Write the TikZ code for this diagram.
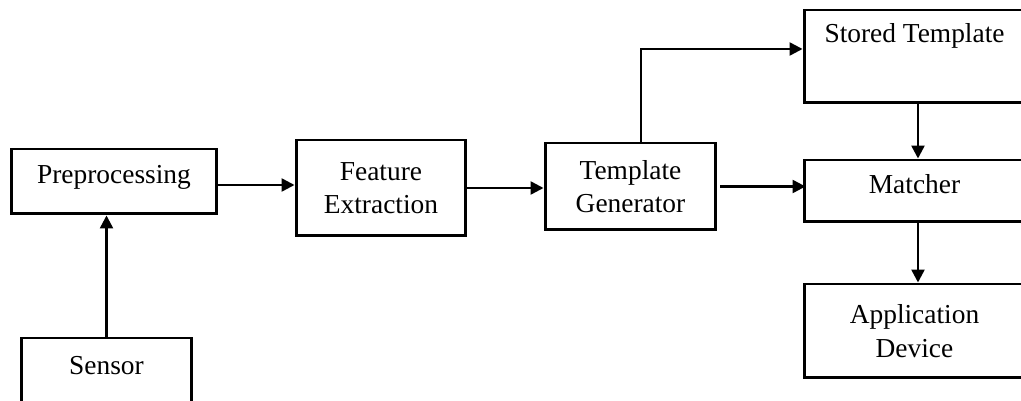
\documentclass[tikz,border=0pt]{standalone}
\usepackage{fontspec}
\setmainfont{Liberation Serif}
\usetikzlibrary{arrows.meta}

\begin{document}
\begin{tikzpicture}[x=0.02cm, y=-0.02cm,
        box/.style={draw, line width=1.7pt, inner sep=0pt, align=center,
            font={\fontsize{15.6}{19}\selectfont}},
        oneline/.style={box, text height=0.7em, text depth=0.45em},
        flow/.style={line width=1.4pt, -{Triangle[length=0.26cm, width=0.26cm]}}]
    \useasboundingbox (0,0) rectangle (1021,401);
    \clip (0,0) rectangle (1021,401);
    \node[oneline, minimum width=4.12cm, minimum height=1.3cm]
        (pre) at (114,181.5) {Preprocessing};
    \node[oneline, minimum width=3.42cm, minimum height=1.36cm]
        (sensor) at (106.5,372) {Sensor};
    \node[box, minimum width=3.4cm, minimum height=1.92cm]
        (feat) at (381,188) {Feature \\ Extraction};
    \node[box, minimum width=3.42cm, minimum height=1.74cm]
        (gen) at (630.5,186.5) {Template \\ Generator};
    \node[oneline, text depth=0.8cm, minimum width=4.42cm, minimum height=1.86cm]
        (stored) at (914.5,56.5) {Stored Template};
    \node[oneline, minimum width=4.42cm, minimum height=1.24cm]
        (match) at (914.5,191) {Matcher};
    \node[box, minimum width=4.42cm, minimum height=1.88cm]
        (app) at (914.5,331) {Application \\ Device};
    \draw[flow] (sensor.north) -- (sensor.north |- pre.south);
    \draw[flow] ([yshift=-0.07cm]pre.east) -- ([yshift=-0.07cm]pre.east -| feat.west);
    \draw[flow] (feat.east) -- (feat.east -| gen.west);
    \draw[flow] ([xshift=0.21cm]gen.north) |- ([yshift=0.15cm]stored.west);
    \draw[flow] ([xshift=0.06cm]gen.east) -- ([xshift=0.06cm]gen.east -| match.west);
    \draw[flow] ([xshift=0.07cm]stored.south) -- ([xshift=0.07cm]match.north);
    \draw[flow] ([xshift=0.07cm]match.south) -- ([xshift=0.07cm]app.north);
\end{tikzpicture}
\end{document}
